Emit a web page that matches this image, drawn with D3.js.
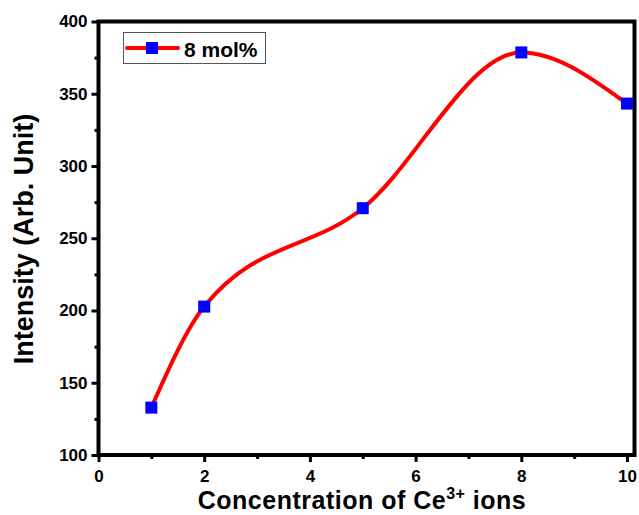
<!DOCTYPE html>
<html>
<head>
<meta charset="utf-8">
<script src="https://cdn.jsdelivr.net/npm/d3@7/dist/d3.min.js"></script>
<style>
  html, body { margin: 0; padding: 0; background: #fff; }
  svg { display: block; font-family: Arial, "Liberation Sans", sans-serif; }
</style>
</head>
<body>
<svg id="chart" width="639" height="515"></svg>
<script>
// Ce3+ concentration (mol%) and emission intensity
const concentrations = [1, 2, 5, 8, 10];
const intensities = [132.8, 202.7, 270.8, 378.6, 343.2];
const xTicks = [0, 2, 4, 6, 8, 10];
const yTicks = [100, 150, 200, 250, 300, 350, 400];
const seriesName = "8 mol%";

const svg = d3.select("#chart");
const margin = { left: 98.5, right: 3, top: 21.5, bottom: 60 };
const W = 639, H = 515;
const x = d3.scaleLinear().domain([0, 10.17]).range([margin.left, W - margin.right]);
const y = d3.scaleLinear().domain([100, 400]).range([H - margin.bottom, margin.top]);

// minor ticks
const xMinor = d3.range(1, 10, 2);
const yMinor = d3.range(125, 400, 50);

const gx = svg.append("g").attr("transform", `translate(0,${y(100)})`);
gx.call(d3.axisBottom(x).tickValues(xTicks).tickSize(7).tickPadding(8).tickFormat(d3.format("d")));
gx.append("g").call(d3.axisBottom(x).tickValues(xMinor).tickSize(4).tickFormat(""));

const gy = svg.append("g").attr("transform", `translate(${x(0)},0)`);
gy.call(d3.axisLeft(y).tickValues(yTicks).tickSize(7).tickPadding(4).tickFormat(d3.format("d")));
gy.append("g").call(d3.axisLeft(y).tickValues(yMinor).tickSize(4).tickFormat(""));

svg.selectAll(".domain").remove();
svg.selectAll(".tick line").attr("stroke", "#000").attr("stroke-width", 3);
svg.selectAll(".tick text").attr("fill", "#000").attr("font-size", 17).attr("font-weight", "bold");

// frame
svg.append("rect")
  .attr("x", x(0)).attr("y", y(400))
  .attr("width", x.range()[1] - x(0) - 1.5).attr("height", y(100) - y(400))
  .attr("fill", "none").attr("stroke", "#000").attr("stroke-width", 4);

// data curve
const pts = concentrations.map((c, i) => [c, intensities[i]]);
svg.append("path")
  .datum(pts)
  .attr("fill", "none").attr("stroke", "#ff0000").attr("stroke-width", 4)
  .attr("d", d3.line().x(d => x(d[0])).y(d => y(d[1])).curve(d3.curveMonotoneX));

const ms = 12;
svg.selectAll("rect.pt").data(pts).join("rect")
  .attr("class", "pt")
  .attr("x", d => x(d[0]) - ms / 2).attr("y", d => y(d[1]) - ms / 2)
  .attr("width", ms).attr("height", ms).attr("fill", "#0000ff");

// legend
const lg = svg.append("g");
lg.append("rect").attr("x", 123.5).attr("y", 32.5).attr("width", 142).attr("height", 31)
  .attr("fill", "#fff").attr("stroke", "#555").attr("stroke-width", 1);
lg.append("line").attr("x1", 127).attr("x2", 178).attr("y1", 48).attr("y2", 48)
  .attr("stroke", "#ff0000").attr("stroke-width", 4).attr("stroke-linecap", "round");
lg.append("rect").attr("x", 146).attr("y", 42).attr("width", 12).attr("height", 12).attr("fill", "#0000ff");
lg.append("text").attr("x", 184).attr("y", 57).attr("font-size", 21).attr("font-weight", "bold")
  .attr("fill", "#000").text(seriesName);

// axis titles
const xt = svg.append("text").attr("x", 362).attr("y", 509).attr("text-anchor", "middle")
  .attr("font-size", 25).attr("font-weight", "bold").attr("letter-spacing", 0.5).attr("fill", "#000");
xt.append("tspan").text("Concentration of Ce");
xt.append("tspan").attr("font-size", 16).attr("dy", -10).text("3+");
xt.append("tspan").attr("dy", 10).text(" ions");

svg.append("text").attr("transform", `translate(33,239) rotate(-90)`)
  .attr("text-anchor", "middle").attr("font-size", 27).attr("font-weight", "bold")
  .attr("fill", "#000").text("Intensity (Arb. Unit)");
</script>
</body>
</html>
